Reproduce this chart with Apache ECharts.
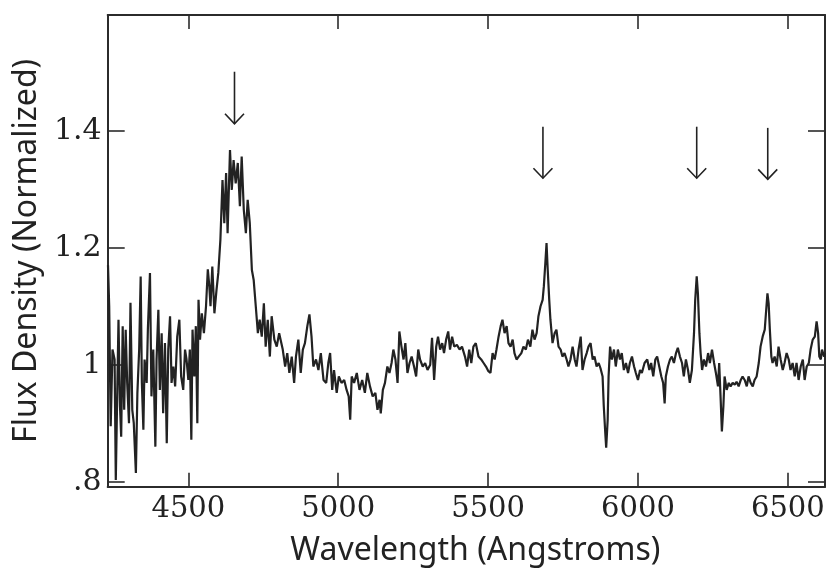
<!DOCTYPE html>
<html>
<head>
<meta charset="utf-8">
<script src="https://cdn.jsdelivr.net/npm/echarts@6/dist/echarts.min.js"></script>
<style>
  html, body { margin: 0; padding: 0; background: #fff; }
  #chart { width: 830px; height: 573px; }
</style>
</head>
<body>
<div id="chart"></div>
<script>
  // spectrum: wavelength (Angstroms) and normalized flux
  var wavelengths = [
    4232, 4236, 4241, 4247, 4254, 4258, 4263, 4267, 4272, 4276, 4281, 4286, 4291, 4296, 4302, 4307,
    4313, 4318, 4325, 4330, 4336, 4341, 4345, 4350, 4354, 4361, 4365, 4372, 4377, 4383, 4390, 4394,
    4400, 4405, 4411, 4416, 4422, 4428, 4433, 4439, 4444, 4450, 4456, 4463, 4470, 4476, 4483, 4489,
    4494, 4500, 4505, 4510, 4514, 4520, 4525, 4530, 4534, 4539, 4545, 4552, 4559, 4565, 4570,
    4574, 4580, 4587, 4594, 4600, 4607, 4614, 4620, 4626, 4631, 4639, 4645, 4651, 4658, 4665, 4672,
    4678, 4685, 4692, 4698, 4705, 4712, 4718, 4725, 4732, 4738, 4745, 4752, 4758, 4765, 4772, 4778,
    4787, 4795, 4803,
    4815, 4823, 4830, 4837, 4845, 4853, 4859, 4867, 4875, 4882, 4889, 4897, 4904, 4911, 4917, 4926,
    4934, 4942, 4951, 4960, 4967, 4973, 4980, 4986, 4995, 5002, 5011, 5020, 5028, 5035, 5040, 5045,
    5053, 5062, 5071, 5080, 5089, 5097, 5106, 5115, 5124, 5131, 5138, 5142, 5149, 5156, 5164, 5171,
    5178, 5184, 5191, 5198, 5204, 5211, 5218, 5224, 5231, 5238, 5245, 5253, 5260, 5267, 5273, 5282,
    5290, 5298, 5307, 5313, 5320, 5327, 5333, 5340, 5347, 5353, 5360, 5367, 5373, 5380, 5387, 5396,
    5405, 5413, 5423,
    5430, 5437, 5444, 5451, 5459, 5468, 5477, 5485, 5493, 5501, 5508, 5515, 5522, 5528, 5535, 5542,
    5548, 5555, 5562, 5568, 5575, 5582, 5588, 5595, 5602, 5611, 5618, 5626, 5633, 5641, 5648, 5655,
    5662, 5668, 5675, 5682, 5686, 5691, 5695, 5699, 5704, 5708, 5715, 5722, 5728, 5735, 5742, 5748,
    5755, 5762, 5768, 5775, 5782, 5789, 5795, 5802, 5809, 5815, 5822, 5829, 5835, 5842, 5849, 5855,
    5862, 5869, 5875, 5882, 5886, 5891, 5894, 5899, 5902, 5907, 5913, 5920, 5926, 5933, 5940, 5946,
    5953, 5960, 5967, 5973, 5980, 5987, 5993, 6000, 6007, 6013, 6022,
    6031, 6038, 6044, 6051, 6058, 6064, 6071, 6078, 6084, 6089, 6093, 6100, 6107, 6113, 6120, 6127,
    6133, 6140, 6147, 6153, 6160, 6167, 6173, 6180, 6187, 6191, 6196, 6200, 6205, 6209, 6214, 6220,
    6227, 6234, 6240, 6247, 6254, 6260, 6267, 6271, 6276, 6280, 6285, 6289, 6296, 6303, 6309, 6316,
    6323, 6329, 6336, 6343, 6349, 6356, 6363, 6369, 6376, 6383, 6389, 6396, 6403, 6409, 6416, 6423,
    6427, 6432, 6436, 6440, 6445, 6449, 6456, 6463, 6469, 6476, 6483, 6489, 6496, 6503, 6509, 6516,
    6523, 6529, 6536, 6543, 6550, 6556, 6563, 6570, 6576, 6583, 6590, 6596, 6601, 6605, 6610, 6614,
    6621, 6624
  ];
  var flux = [
    1.17, 1.10, 0.895, 1.026, 1.009, 0.803, 0.957, 1.077, 0.929, 0.877, 1.066, 0.923, 1.06, 0.969, 0.90, 1.106,
    0.923, 0.90, 0.815, 0.951, 1.026, 1.151, 0.969, 0.889, 1.009, 0.969, 1.06, 1.157, 0.946, 1.026, 0.86, 1.009,
    1.094, 0.957, 1.054, 0.917, 1.037, 0.866, 1.026, 1.083, 0.969, 0.997, 0.963, 1.048, 1.077, 0.98, 0.957, 1.026,
    1.009, 0.974, 1.026, 0.872, 1.06, 0.98, 1.066, 0.90, 1.111, 1.043, 1.088, 1.054, 1.10, 1.163, 1.134,
    1.10, 1.168, 1.088, 1.128, 1.157, 1.214, 1.316, 1.242, 1.328, 1.225, 1.367, 1.299, 1.35, 1.31, 1.345, 1.271,
    1.356, 1.265, 1.225, 1.282, 1.242, 1.162, 1.145, 1.10, 1.054, 1.077, 1.048, 1.105, 1.031, 1.077, 1.014, 1.083,
    1.043, 1.031, 1.054,
    1.026, 0.997, 1.02, 0.986, 1.014, 0.969, 1.014, 1.043, 0.986, 1.026, 1.037, 1.066, 1.086, 1.048, 0.997, 1.009,
    0.991, 1.02, 0.974, 0.969, 1.003, 1.02, 0.957, 0.991, 0.952, 0.98, 0.969, 0.974, 0.957, 0.946, 0.906, 0.98,
    0.969, 0.986, 0.957, 0.974, 0.952, 0.986, 0.963, 0.946, 0.952, 0.923, 0.94, 0.917, 0.957, 0.969, 0.997, 0.986,
    1.003, 1.026, 1.009, 0.969, 1.057, 1.031, 1.009, 1.037, 0.986, 1.003, 1.014, 0.997, 0.98, 1.026, 1.009, 0.997,
    1.003, 0.991, 1.0, 1.046, 0.974, 1.031, 1.048, 1.026, 1.037, 1.02, 1.043, 1.057, 1.026, 1.048, 1.031, 1.034,
    1.026, 1.031, 1.014,
    0.997, 1.026, 1.003, 1.031, 1.037, 1.014, 1.009, 1.003, 0.997, 0.989, 0.986, 1.02, 1.009, 1.026, 1.048, 1.066,
    1.077, 1.054, 1.066, 1.037, 1.031, 1.043, 1.02, 1.009, 1.014, 1.02, 1.031, 1.026, 1.043, 1.031, 1.06, 1.043,
    1.054, 1.083, 1.10, 1.111, 1.134, 1.174, 1.208, 1.162, 1.111, 1.077, 1.037, 1.054, 1.06, 1.031, 1.026, 1.014,
    1.02, 1.009, 0.997, 1.009, 1.031, 1.009, 0.997, 1.026, 1.048, 0.991, 1.009, 1.02, 1.031, 1.037, 1.009, 1.014,
    0.997, 1.003, 0.994, 0.98, 0.929, 0.883, 0.858, 0.906, 0.98, 1.031, 1.009, 1.026, 0.997, 1.026, 1.009, 1.02,
    0.991, 1.003, 0.986, 1.003, 1.014, 0.997, 0.986, 0.974, 0.991, 0.986, 1.003,
    1.009, 0.991, 1.003, 0.98, 1.009, 1.014, 0.997, 0.98, 0.969, 0.934, 0.98, 0.997, 1.009, 1.014, 1.003, 1.02,
    1.029, 1.014, 1.003, 0.98, 1.009, 0.991, 0.969, 0.991, 1.054, 1.111, 1.151, 1.122, 1.054, 1.02, 0.991, 1.009,
    0.997, 1.02, 1.003, 1.026, 1.003, 0.986, 0.963, 1.003, 0.94, 0.886, 0.929, 0.98, 0.957, 0.969, 0.963, 0.969,
    0.966, 0.971, 0.963, 0.974, 0.98, 0.974, 0.963, 0.98, 0.969, 0.963, 0.974, 0.98, 1.003, 1.031, 1.048, 1.06,
    1.088, 1.122, 1.105, 1.06, 1.014, 1.003, 1.014, 0.997, 1.031, 1.009, 0.991, 1.003, 1.02, 1.009, 0.991, 1.003,
    0.98, 1.003, 0.974, 0.997, 1.009, 0.974, 0.997, 1.003, 1.026, 1.043, 1.048, 1.074, 1.054, 1.014, 1.009, 1.026,
    1.014, 1.02
  ];

  // axis ticks
  var xTickValues = [4500, 5000, 5500, 6000, 6500];
  var yTickValues = [0.8, 1, 1.2, 1.4];
  var yTickLabels = ['.8', '1', '1.2', '1.4'];

  // marked lines: arrow position and its top / tip in flux units
  var arrowWaves = [4654, 5683, 6196, 6433];
  var arrowTop = [1.501, 1.407, 1.407, 1.405];
  var arrowTip = [1.412, 1.319, 1.319, 1.317];

  var xMin = 4231, xMax = 6624;
  var yMin = 0.7915, yMax = 1.598;

  var ink = '#222';
  var frame = { show: true, onZero: false, lineStyle: { color: '#2b2b2b', width: 2 } };

  var spectrum = wavelengths.map(function (w, i) { return [w, flux[i]]; });
  var arrows = arrowWaves.map(function (w, i) { return [w, arrowTop[i], arrowTip[i]]; });

  var myChart = echarts.init(document.getElementById('chart'));
  myChart.setOption({
    animation: false,
    backgroundColor: '#fff',
    grid: { left: 107.7, right: 5, top: 15, bottom: 86.3, containLabel: false },
    xAxis: [{
      type: 'value', position: 'bottom', min: xMin, max: xMax,
      axisLine: frame,
      axisTick: { show: true, inside: true, length: 14, customValues: xTickValues, lineStyle: { color: '#2b2b2b', width: 1.6 } },
      axisLabel: {
        customValues: xTickValues, margin: 8, color: ink,
        fontFamily: 'DejaVu Serif', fontSize: 29,
        formatter: function (v) { return String(Math.round(v)); }
      },
      splitLine: { show: false },
      name: 'Wavelength (Angstroms)', nameLocation: 'middle', nameGap: 48,
      nameTextStyle: { fontFamily: 'Noto Sans', fontSize: 32, color: ink, padding: [0, 0, 0, 18] }
    }, {
      type: 'value', position: 'top', min: xMin, max: xMax,
      axisLine: frame,
      axisTick: { show: true, inside: true, length: 14, customValues: xTickValues, lineStyle: { color: '#2b2b2b', width: 1.6 } },
      axisLabel: { show: false },
      splitLine: { show: false }
    }],
    yAxis: [{
      type: 'value', position: 'left', min: yMin, max: yMax,
      axisLine: frame,
      axisTick: { show: true, inside: true, length: 17, customValues: yTickValues, lineStyle: { color: '#2b2b2b', width: 1.6 } },
      axisLabel: {
        customValues: yTickValues, margin: 6, color: ink,
        fontFamily: 'DejaVu Serif', fontSize: 30,
        formatter: function (v) {
          var i = yTickValues.indexOf(Math.round(v * 10) / 10);
          return i >= 0 ? yTickLabels[i] : '';
        }
      },
      splitLine: { show: false },
      name: 'Flux Density (Normalized)', nameLocation: 'middle', nameGap: 61, nameRotate: 90,
      nameTextStyle: { fontFamily: 'Noto Sans', fontSize: 32, color: ink }
    }, {
      type: 'value', position: 'right', min: yMin, max: yMax,
      axisLine: frame,
      axisTick: { show: true, inside: true, length: 17, customValues: yTickValues, lineStyle: { color: '#2b2b2b', width: 1.6 } },
      axisLabel: { show: false },
      splitLine: { show: false }
    }],
    series: [{
      type: 'line',
      data: spectrum,
      xAxisIndex: 0, yAxisIndex: 0,
      showSymbol: false,
      lineStyle: { color: ink, width: 2.2 },
      clip: true,
      silent: true
    }, {
      // arrows over the lines
      type: 'custom',
      xAxisIndex: 0, yAxisIndex: 0,
      data: arrows,
      encode: { x: 0, y: [1, 2] },
      silent: true,
      renderItem: function (params, api) {
        var top = api.coord([api.value(0), api.value(1)]);
        var tip = api.coord([api.value(0), api.value(2)]);
        return {
          type: 'group',
          children: [{
            type: 'line',
            shape: { x1: top[0], y1: top[1], x2: tip[0], y2: tip[1] },
            style: { stroke: ink, lineWidth: 1.6 }
          }, {
            type: 'polyline',
            shape: { points: [[tip[0] - 9.5, tip[1] - 10], [tip[0], tip[1]], [tip[0] + 9.5, tip[1] - 10]] },
            style: { stroke: ink, fill: null, lineWidth: 1.6 }
          }]
        };
      }
    }]
  });
</script>
</body>
</html>
